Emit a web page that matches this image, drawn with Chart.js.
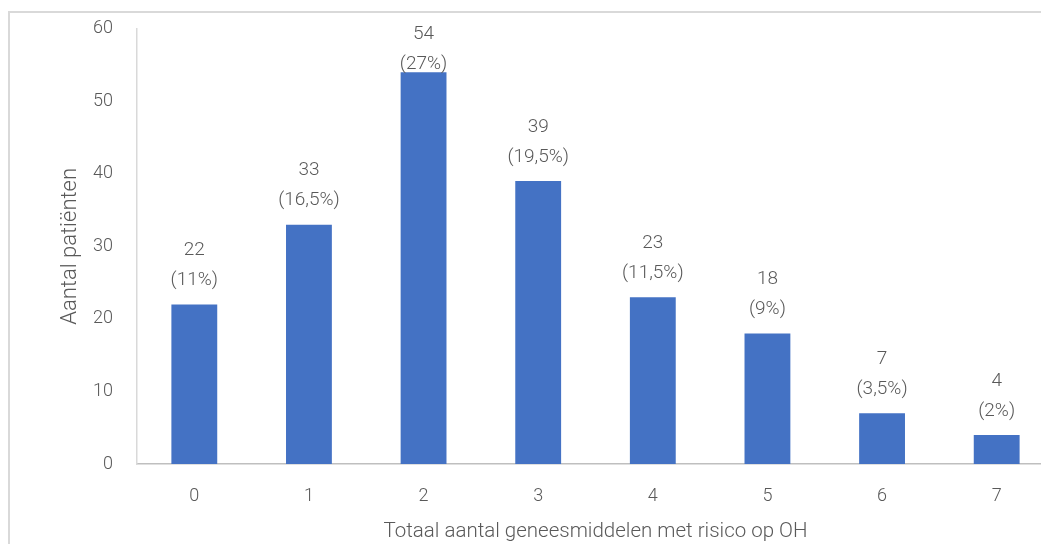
<!DOCTYPE html>
<html>
<head>
<meta charset="utf-8">
<script src="https://cdn.jsdelivr.net/npm/chart.js@4.4.0/dist/chart.umd.min.js"></script>
<style>
  html, body { margin: 0; padding: 0; background: #ffffff; overflow: hidden; width: 1041px; height: 544px; }
  #frame { position: absolute; left: 8px; top: 11px; width: 1100px; height: 600px; border: 2px solid #d9d9d9; box-sizing: border-box; }
  #wrap { position: absolute; left: 0; top: -6px; width: 1054px; height: 552px; }
</style>
</head>
<body>
<div id="frame"></div>
<div id="wrap"><canvas id="c" width="1054" height="552"></canvas></div>
<script>
const categories = ["0", "1", "2", "3", "4", "5", "6", "7"];
const patients = [22, 33, 54, 39, 23, 18, 7, 4];
const percentLabels = ["(11%)", "(16,5%)", "(27%)", "(19,5%)", "(11,5%)", "(9%)", "(3,5%)", "(2%)"];
const yTicks = [0, 10, 20, 30, 40, 50, 60];
const xTitle = "Totaal aantal geneesmiddelen met risico op OH";
const yTitle = "Aantal patiënten";

const FONT = "Roboto";
const TEXT = "#595959";

const labelPlugin = {
  id: "barLabels",
  afterDatasetsDraw(chart) {
    const ctx = chart.ctx;
    const meta = chart.getDatasetMeta(0);
    ctx.save();
    ctx.font = "300 19px " + FONT;
    ctx.fillStyle = TEXT;
    ctx.textAlign = "center";
    ctx.textBaseline = "middle";
    meta.data.forEach((bar, i) => {
      let yVal = bar.y - 54;
      const minY = chart.chartArea.top + 5;
      if (yVal < minY) yVal = minY;
      ctx.fillText(String(patients[i]), bar.x, yVal);
      ctx.fillText(percentLabels[i], bar.x, yVal + 30);
    });
    ctx.restore();
  }
};

new Chart(document.getElementById("c"), {
  type: "bar",
  data: {
    labels: categories,
    datasets: [{
      data: patients,
      backgroundColor: "#4472C4",
      borderWidth: 0,
      categoryPercentage: 0.4,
      barPercentage: 1.0
    }]
  },
  options: {
    responsive: false,
    animation: false,
    layout: { padding: { left: 0, right: 0, top: 21, bottom: 0 } },
    plugins: { legend: { display: false }, tooltip: { enabled: false } },
    scales: {
      x: {
        grid: { display: false, drawTicks: false },
        border: { display: true, color: "#bfbfbf", width: 1.5 },
        ticks: { color: TEXT, font: { family: FONT, size: 18, weight: 300 }, padding: 22 },
        title: { display: true, text: xTitle, color: TEXT, font: { family: FONT, size: 20.5, weight: 300 }, padding: { top: 0, bottom: 2 } },
        afterFit(scale) { scale.height = 82; }
      },
      y: {
        min: 0, max: 60,
        afterBuildTicks(scale) { scale.ticks = yTicks.map(v => ({ value: v })); },
        grid: { display: false, drawTicks: false },
        border: { display: true, color: "#d9d9d9", width: 1.5 },
        ticks: { color: TEXT, font: { family: FONT, size: 18, weight: 300 }, padding: 24 },
        title: { display: true, text: yTitle, color: TEXT, font: { family: FONT, size: 22, weight: 300 }, padding: { top: 57, bottom: 0 } },
        afterFit(scale) { scale.width = 137; }
      }
    }
  },
  plugins: [labelPlugin]
});
</script>
</body>
</html>
